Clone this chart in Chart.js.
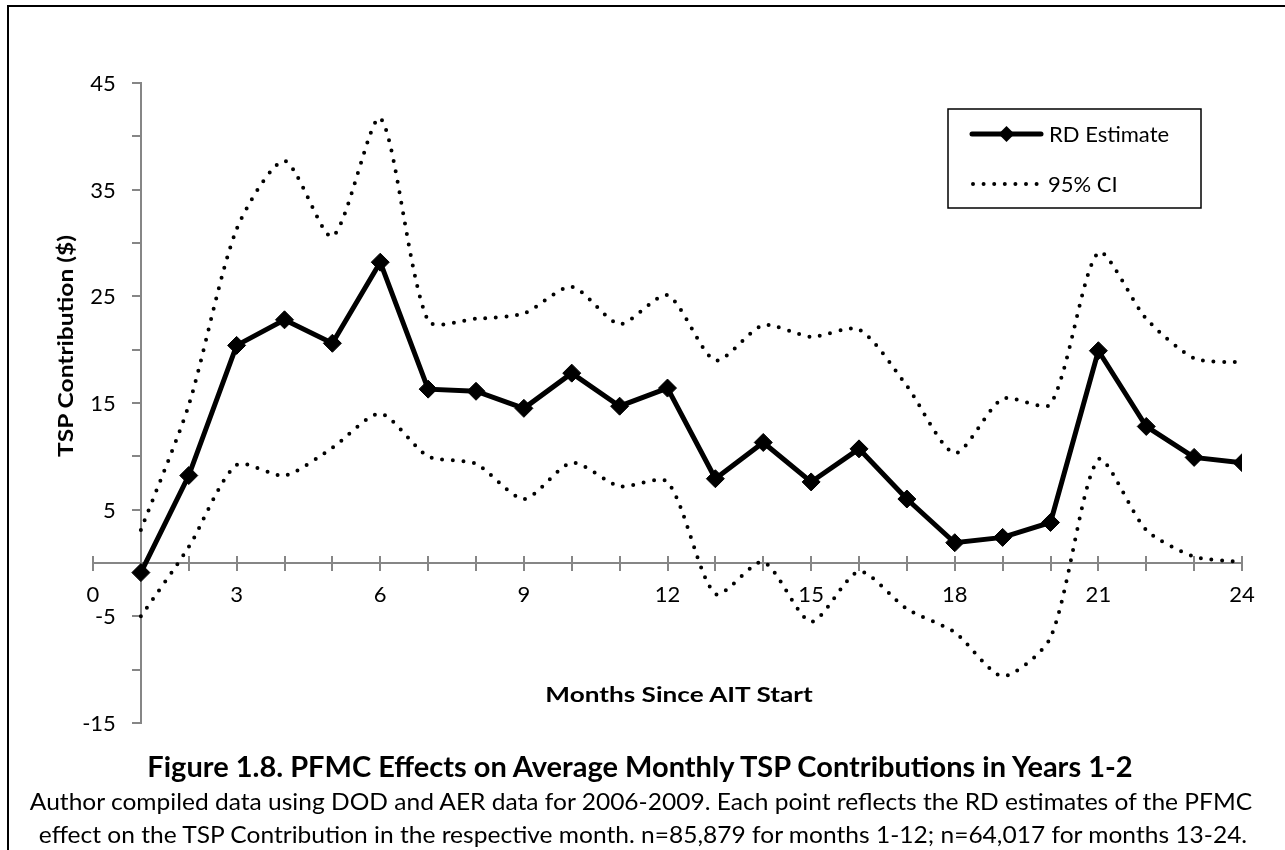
<!DOCTYPE html>
<html>
<head>
<meta charset="utf-8">
<title>PFMC Effects on Average Monthly TSP Contributions</title>
<script src="https://cdn.jsdelivr.net/npm/chart.js@4.4.1/dist/chart.umd.min.js"></script>
<style>
  html, body { margin: 0; padding: 0; background: #fff; }
  #page { position: relative; width: 1285px; height: 850px; overflow: hidden; background: #fff; }
  #frame { position: absolute; left: 7px; top: 5px; width: 1400px; height: 900px;
           border-top: 2px solid #000; border-left: 2px solid #000; }
  #wrap { position: absolute; left: 0; top: 0; width: 1285px; height: 850px; }
  .txt { position: absolute; white-space: nowrap; font-family: Lato, "Open Sans", sans-serif; color: #000; line-height: 1; }
  .bold { font-weight: 700; }
</style>
</head>
<body>
<div id="page">
  <div id="frame"></div>
  <div id="wrap"><canvas id="c"></canvas></div>
  <div class="txt bold" id="xTitle" data-w="267" data-cx="679" data-cy="694" style="font-size:20px">Months Since AIT Start</div>
  <div class="txt bold" id="yTitle" data-w="222" data-cx="65" data-cy="346" data-rot="1" style="font-size:20px">TSP Contribution ($)</div>
  <div class="txt bold" id="figTitle" data-w="985" data-cx="640" data-cy="766" style="font-size:28px">Figure 1.8. PFMC Effects on Average Monthly TSP Contributions in Years 1-2</div>
  <div class="txt" id="cap1" data-w="1222" data-cx="641" data-cy="801" style="font-size:24px">Author compiled data using DOD and AER data for 2006-2009. Each point reflects the RD estimates of the PFMC</div>
  <div class="txt" id="cap2" data-w="1208" data-cx="643" data-cy="834" style="font-size:24px">effect on the TSP Contribution in the respective month. n=85,879 for months 1-12; n=64,017 for months 13-24.</div>
</div>
<script>
// Months since AIT start
const months = [1, 2, 3, 4, 5, 6, 7, 8, 9, 10, 11, 12, 13, 14, 15, 16, 17, 18, 19, 20, 21, 22, 23, 24];

// RD estimate of the PFMC effect on monthly TSP contribution ($)
const rdEstimate = [-0.9, 8.2, 20.4, 22.8, 20.6, 28.2, 16.3, 16.1, 14.5, 17.8, 14.7, 16.4,
                    7.9, 11.3, 7.6, 10.7, 6.0, 1.9, 2.4, 3.8, 19.9, 12.8, 9.9, 9.4];

// 95% confidence interval bounds
const ciUpper = [3.1, 14.8, 31.3, 37.7, 30.6, 41.7, 22.7, 22.9, 23.4, 25.9, 22.4, 25.1,
                 19.0, 22.3, 21.2, 21.9, 16.6, 10.3, 15.4, 14.9, 29.1, 22.9, 19.2, 18.8];
const ciLower = [-5.0, 1.5, 9.2, 8.2, 10.8, 14.0, 10.0, 9.3, 6.0, 9.4, 7.2, 7.6,
                 -2.9, 0.1, -5.5, -0.8, -4.3, -6.5, -10.6, -7.0, 9.7, 3.1, 0.6, 0.1];

// Axis ranges and labelled ticks
const xRange = [0, 24];
const yRange = [-15, 45];
const xLabelTicks = [0, 3, 6, 9, 12, 15, 18, 21, 24];
const yLabelTicks = [-15, -5, 5, 15, 25, 35, 45];

const seriesNames = ['RD Estimate', '95% CI'];

const toPoints = (ys) => months.map((m, i) => ({ x: m, y: ys[i] }));

const AXIS_GREY = '#868686';
const FONT = 'Lato, "Open Sans", sans-serif';
const TICK_FONT_SIZE = 22;

// Upper half of the crossing tick marks on the horizontal axis
const crossTicks = {
  id: 'crossTicks',
  afterDraw(chart) {
    const xs = chart.scales.x, ys = chart.scales.y;
    const y0 = Math.round(ys.getPixelForValue(0));
    const ctx = chart.ctx;
    ctx.save();
    ctx.strokeStyle = AXIS_GREY;
    ctx.lineWidth = 2;
    xs.ticks.forEach(t => {
      const px = Math.round(xs.getPixelForValue(t.value));
      ctx.beginPath();
      ctx.moveTo(px, y0);
      ctx.lineTo(px, y0 - 7);
      ctx.stroke();
    });
    ctx.restore();
  }
};

// Value labels to the left of the vertical axis (which crosses at x = 1)
const yAxisLabels = {
  id: 'yAxisLabels',
  afterDraw(chart) {
    const xs = chart.scales.x, ys = chart.scales.y;
    const axisX = xs.getPixelForValue(1);
    const ctx = chart.ctx;
    ctx.save();
    ctx.font = TICK_FONT_SIZE + 'px ' + FONT;
    ctx.fillStyle = '#000';
    ctx.textAlign = 'right';
    ctx.textBaseline = 'middle';
    yLabelTicks.forEach(v => {
      ctx.fillText(String(v), axisX - 25, ys.getPixelForValue(v) + 1);
    });
    ctx.restore();
  }
};

// Boxed legend in the upper right of the plot
const boxLegend = {
  id: 'boxLegend',
  afterDraw(chart) {
    const ctx = chart.ctx;
    const bx = 948, by = 109, bw = 253, bh = 99;
    ctx.save();
    ctx.fillStyle = '#fff';
    ctx.fillRect(bx, by, bw, bh);
    ctx.strokeStyle = '#000';
    ctx.lineWidth = 1.5;
    ctx.strokeRect(bx, by, bw, bh);

    // solid line with diamond
    const y1 = 134;
    ctx.strokeStyle = '#000';
    ctx.lineWidth = 5;
    ctx.lineCap = 'round';
    ctx.beginPath();
    ctx.moveTo(972, y1);
    ctx.lineTo(1041, y1);
    ctx.stroke();
    ctx.fillStyle = '#000';
    ctx.beginPath();
    ctx.moveTo(1006.5, y1 - 8);
    ctx.lineTo(1014.5, y1);
    ctx.lineTo(1006.5, y1 + 8);
    ctx.lineTo(998.5, y1);
    ctx.closePath();
    ctx.fill();

    // dotted line
    const y2 = 184;
    ctx.lineWidth = 4;
    ctx.setLineDash([0, 10.6]);
    ctx.beginPath();
    ctx.moveTo(973, y2);
    ctx.lineTo(1040, y2);
    ctx.stroke();
    ctx.setLineDash([]);

    ctx.font = TICK_FONT_SIZE + 'px ' + FONT;
    ctx.textBaseline = 'middle';
    ctx.textAlign = 'left';
    ctx.fillStyle = '#000';
    ctx.fillText(seriesNames[0], 1049, y1 + 1);
    ctx.fillText(seriesNames[1], 1048, y2 + 1);
    ctx.restore();
  }
};

const ciStyle = {
  borderColor: '#000',
  borderWidth: 4,
  borderDash: [0, 10.6],
  borderCapStyle: 'round',
  pointRadius: 0,
  pointHoverRadius: 0,
  tension: 0.25,
  fill: false
};

new Chart(document.getElementById('c'), {
  type: 'line',
  data: {
    datasets: [
      Object.assign({ label: '95% CI upper', data: toPoints(ciUpper) }, ciStyle),
      Object.assign({ label: '95% CI lower', data: toPoints(ciLower) }, ciStyle),
      {
        label: seriesNames[0],
        data: toPoints(rdEstimate),
        borderColor: '#000',
        borderWidth: 5,
        borderJoinStyle: 'miter',
        pointStyle: 'rectRot',
        pointRadius: 9,
        pointBackgroundColor: '#000',
        pointBorderColor: '#000',
        pointBorderWidth: 1,
        tension: 0,
        fill: false
      }
    ]
  },
  options: {
    responsive: true,
    maintainAspectRatio: false,
    animation: false,
    events: [],
    layout: { padding: { left: 93, right: 43, top: 83, bottom: 127 } },
    plugins: {
      legend: { display: false },
      tooltip: { enabled: false },
      title: { display: false }
    },
    scales: {
      x: {
        type: 'linear',
        min: xRange[0],
        max: xRange[1],
        position: { y: 0 },
        ticks: {
          stepSize: 1,
          autoSkip: false,
          maxRotation: 0,
          padding: 12,
          color: '#000',
          font: { family: FONT, size: TICK_FONT_SIZE },
          callback: v => (xLabelTicks.includes(v) ? String(v) : '')
        },
        grid: { drawOnChartArea: false, drawTicks: true, tickLength: 7, color: AXIS_GREY, lineWidth: 2 },
        border: { color: AXIS_GREY, width: 2 }
      },
      y: {
        type: 'linear',
        min: yRange[0],
        max: yRange[1],
        position: { x: 1 },
        ticks: {
          stepSize: 5,
          autoSkip: false,
          display: false
        },
        grid: { drawOnChartArea: false, drawTicks: true, tickLength: 8, color: AXIS_GREY, lineWidth: 2 },
        border: { color: AXIS_GREY, width: 2 }
      }
    }
  },
  plugins: [crossTicks, yAxisLabels, boxLegend]
});

// Place the HTML titles and fit each to its line width
function placeTexts() {
  document.querySelectorAll('.txt').forEach(el => {
    const w = el.offsetWidth;
    const k = parseFloat(el.dataset.w) / w;
    const cx = parseFloat(el.dataset.cx), cy = parseFloat(el.dataset.cy);
    el.style.left = cx + 'px';
    el.style.top = cy + 'px';
    el.style.transformOrigin = '0 0';
    const rot = el.dataset.rot ? ' rotate(-90deg)' : '';
    el.style.transform = 'translate(0,0)' + rot + ' scaleX(' + k + ') translate(-50%,-50%)';
  });
}
if (document.fonts && document.fonts.ready) { document.fonts.ready.then(placeTexts); } else { placeTexts(); }
placeTexts();
</script>
</body>
</html>
